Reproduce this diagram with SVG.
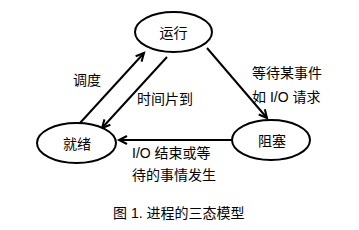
<svg xmlns="http://www.w3.org/2000/svg" width="359" height="230" viewBox="0 0 359 230">
<style>
.node ellipse{fill:#fff;stroke:#000;stroke-width:2}
.conn line,.conn path{stroke:#000;stroke-width:2;fill:none}
text{font-family:"Liberation Sans","Noto Sans CJK SC",sans-serif;font-size:14px;fill:#000}
.c{text-anchor:middle;dominant-baseline:central}
</style>
<defs>
<marker id="arr" markerWidth="12" markerHeight="12" refX="9" refY="5" orient="auto" markerUnits="userSpaceOnUse">
<path d="M1,1 L9,5 L1,9" fill="none" stroke="#000" stroke-width="2"/>
</marker>
</defs>
<rect width="359" height="230" fill="#fff"/>
<g class="conn">
<line x1="80" y1="123" x2="144" y2="53" marker-end="url(#arr)"/>
<line x1="167" y1="57" x2="102" y2="128" marker-end="url(#arr)"/>
<line x1="207" y1="48" x2="267" y2="118" marker-end="url(#arr)"/>
<line x1="232" y1="140" x2="119" y2="140" marker-end="url(#arr)"/>
</g>
<g id="running" class="node"><ellipse cx="173.5" cy="32" rx="38.5" ry="20"/><text class="c" x="173.5" y="33">运行</text></g>
<g id="ready" class="node"><ellipse cx="76.5" cy="143" rx="39.5" ry="20"/><text class="c" x="77" y="144">就绪</text></g>
<g id="blocked" class="node"><ellipse cx="271" cy="140" rx="39" ry="20"/><text class="c" x="272" y="141">阻塞</text></g>
<g id="labels">
<text x="73" y="85">调度</text>
<text x="137" y="104">时间片到</text>
<text x="252" y="78">等待某事件</text>
<text x="252" y="102">如 I/O 请求</text>
<text x="132" y="158">I/O 结束或等</text>
<text x="132" y="180">待的事情发生</text>
<text x="113" y="218">图 1. 进程的三态模型</text>
</g>
</svg>
